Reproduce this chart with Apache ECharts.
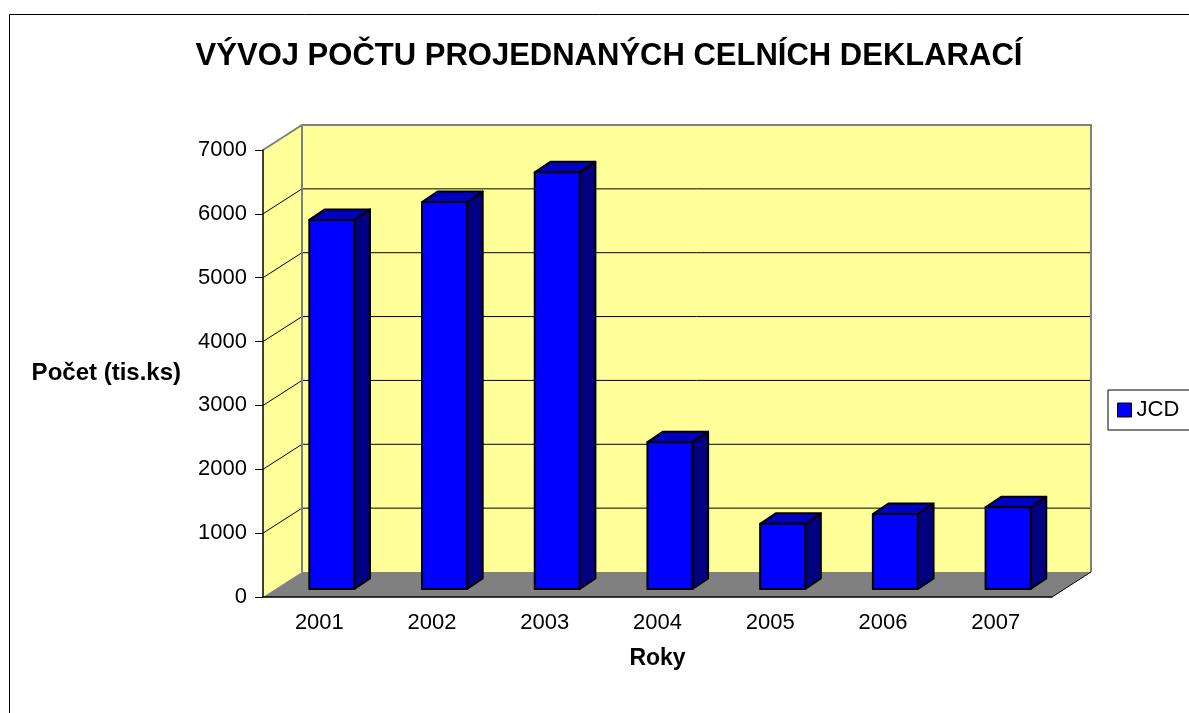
<!DOCTYPE html>
<html>
<head>
<meta charset="utf-8">
<script src="https://cdn.jsdelivr.net/npm/echarts@6/dist/echarts.min.js"></script>
<style>
  html, body { margin: 0; padding: 0; background: #fff; }
  #main { width: 1189px; height: 713px; }
</style>
</head>
<body>
<div id="main"></div>
<script>
// data
var years = ['2001', '2002', '2003', '2004', '2005', '2006', '2007'];
var jcd = [5780, 6060, 6525, 2300, 1020, 1175, 1280];
var gridValues = [1000, 2000, 3000, 4000, 5000, 6000];
var yMax = 7000;

var FONT = 'Liberation Sans, Arial, sans-serif';
// hloubka 3D efektu (px)
var DEPTH = [39, -25];

// zadni stena, bocni stena, podlaha a mrizka
function renderWalls(params, api) {
    var bw = api.size([1, 0])[0];
    var p0 = api.coord([0, 0]);
    var x0 = p0[0] - bw / 2, y0 = p0[1];
    var x1 = api.coord([years.length - 1, 0])[0] + bw / 2;
    var yTop = api.coord([0, yMax])[1];
    var dx = DEPTH[0], dy = DEPTH[1];
    var kids = [];
    kids.push({type: 'polygon', shape: {points: [[x0 + dx, yTop + dy], [x1 + dx, yTop + dy], [x1 + dx, y0 + dy], [x0 + dx, y0 + dy]]},
        style: {fill: '#FFFF99'}});
    kids.push({type: 'polygon', shape: {points: [[x0, yTop], [x0 + dx, yTop + dy], [x0 + dx, y0 + dy], [x0, y0]]},
        style: {fill: '#FFFF99'}});
    kids.push({type: 'polygon', shape: {points: [[x0, y0], [x0 + dx, y0 + dy], [x1 + dx, y0 + dy], [x1, y0]]},
        style: {fill: '#808080'}});
    gridValues.forEach(function (g) {
        var y = api.coord([0, g])[1];
        kids.push({type: 'polyline', shape: {points: [[x0, y], [x0 + dx, y + dy], [x1 + dx, y + dy]]},
            style: {stroke: '#000', lineWidth: 1, fill: null}});
    });
    var gray = {stroke: '#808080', lineWidth: 2, fill: null};
    kids.push({type: 'polyline', shape: {points: [[x0, yTop], [x0 + dx, yTop + dy], [x1 + dx, yTop + dy], [x1 + dx, y0 + dy]]}, style: gray});
    kids.push({type: 'line', shape: {x1: x0 + dx, y1: yTop + dy, x2: x0 + dx, y2: y0 + dy}, style: gray});
    kids.push({type: 'line', shape: {x1: x1, y1: y0, x2: x1 + dx, y2: y0 + dy}, style: {stroke: '#000', lineWidth: 1}});
    return {type: 'group', children: kids};
}

// 3D sloupec
function renderBar(params, api) {
    var i = api.value(0), v = api.value(1);
    var c = api.coord([i, v]);
    var b = api.coord([i, 0]);
    var bw = api.size([1, 0])[0] * 0.4;
    var ox = DEPTH[0] * 0.32, oy = DEPTH[1] * 0.32;
    var dX = DEPTH[0] * 0.4, dY = DEPTH[1] * 0.42;
    var xl = c[0] - bw / 2 + ox, xr = xl + bw;
    var yt = c[1] + oy, yb = b[1] + oy;
    var line = {stroke: '#000', lineWidth: 2, lineJoin: 'round'};
    return {type: 'group', children: [
        {type: 'polygon', shape: {points: [[xr, yt], [xr + dX, yt + dY], [xr + dX, yb + dY], [xr, yb]]},
            style: Object.assign({fill: '#000080'}, line)},
        {type: 'polygon', shape: {points: [[xl, yt], [xl + dX, yt + dY], [xr + dX, yt + dY], [xr, yt]]},
            style: Object.assign({fill: '#0000C0'}, line)},
        {type: 'rect', shape: {x: xl, y: yt, width: bw, height: yb - yt},
            style: Object.assign({fill: '#0000FF'}, line)}
    ]};
}

var chart = echarts.init(document.getElementById('main'));

var option = {
    backgroundColor: '#fff',
    animation: false,
    title: {
        text: 'VÝVOJ POČTU PROJEDNANÝCH CELNÍCH DEKLARACÍ',
        left: 609,
        top: 41,
        padding: 0,
        textAlign: 'center',
        textStyle: {fontFamily: FONT, fontSize: 31, fontWeight: 'bold', color: '#000'}
    },
    legend: {
        left: 1108,
        top: 390,
        orient: 'vertical',
        padding: [9, 20, 9, 9],
        borderColor: '#000',
        borderWidth: 1,
        itemWidth: 14,
        itemHeight: 14,
        textStyle: {fontFamily: FONT, fontSize: 22, color: '#000', lineHeight: 16},
        data: [{name: 'JCD', icon: 'rect', itemStyle: {color: '#0000FF', borderColor: '#000', borderWidth: 1}}]
    },
    graphic: [{
        type: 'rect',
        shape: {x: 9.5, y: 14.5, width: 1200, height: 720},
        style: {fill: null, stroke: '#000', lineWidth: 1},
        silent: true
    }],
    grid: {left: 263, top: 150, width: 789, height: 447},
    xAxis: {
        type: 'category',
        data: years,
        z: 10,
        name: 'Roky',
        nameLocation: 'middle',
        nameGap: 50,
        nameTextStyle: {fontFamily: FONT, fontSize: 23, fontWeight: 'bold', color: '#000'},
        axisLine: {lineStyle: {color: '#000', width: 1.5}},
        axisTick: {length: 8, lineStyle: {color: '#000'}},
        axisLabel: {fontFamily: FONT, fontSize: 22, color: '#000', margin: 15},
        splitLine: {show: false}
    },
    yAxis: {
        type: 'value',
        min: 0,
        max: yMax,
        interval: 1000,
        z: 10,
        name: 'Počet (tis.ks)',
        nameLocation: 'middle',
        nameRotate: 0,
        nameGap: 82,
        nameTextStyle: {fontFamily: FONT, fontSize: 24, fontWeight: 'bold', color: '#000'},
        axisLine: {show: true, lineStyle: {color: '#000', width: 1.5}},
        axisTick: {show: true, length: 8, lineStyle: {color: '#000'}},
        axisLabel: {fontFamily: FONT, fontSize: 22, color: '#000', margin: 16,
            formatter: function (v) { return String(v); }},
        splitLine: {show: false}
    },
    series: [
        {
            name: 'walls',
            type: 'custom',
            z: 1,
            silent: true,
            renderItem: renderWalls,
            encode: {x: 0, y: 1},
            data: [[0, 0]]
        },
        {
            name: 'JCD',
            type: 'custom',
            z: 2,
            itemStyle: {color: '#0000FF'},
            renderItem: renderBar,
            encode: {x: 0, y: 1},
            data: jcd.map(function (v, i) { return [i, v]; })
        }
    ]
};

chart.setOption(option);
</script>
</body>
</html>
